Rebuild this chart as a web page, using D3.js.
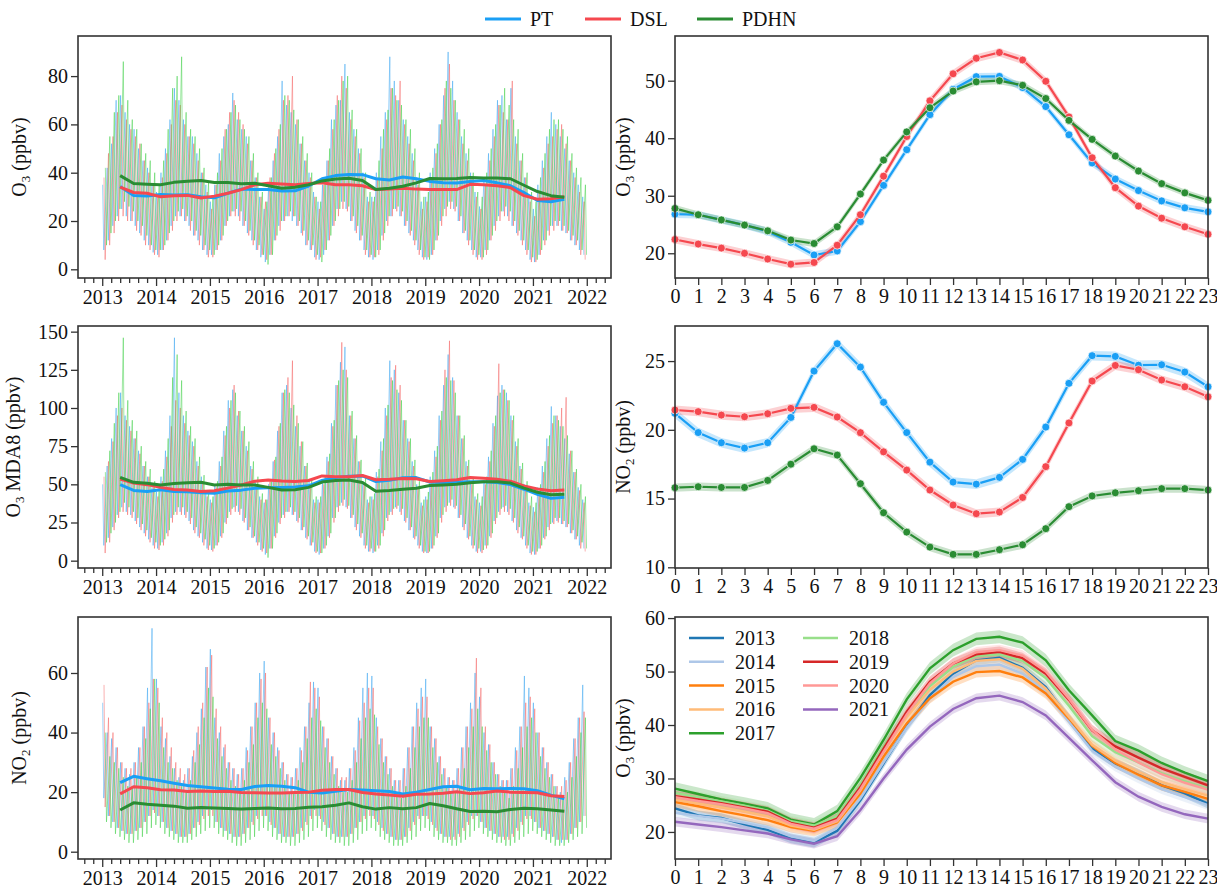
<!DOCTYPE html>
<html>
<head>
<meta charset="utf-8">
<script src="https://cdn.jsdelivr.net/npm/d3@7"></script>
<style>
body { margin: 0; background: #fff; }
</style>
</head>
<body>
<div id="container"></div>
<script>
// ---------------- data ----------------
var stations = ["PT", "DSL", "PDHN"];
var colors = ["#1a9ff5", "#f5484f", "#2a8c33"];
var thinColors = ["#3aa6f2", "#f56464", "#3dcf46"];

var years = d3.range(2013, 2023);
var hours = d3.range(24);

// monthly high / low of the daily series (Jan 2013 .. Dec 2021)
var o3HiPT = [
  35,42,52,70,72,65,60,58,50,45,42,35, 32,40,50,62,75,70,62,55,55,48,40,35,
  28,35,48,55,60,73,62,58,55,45,38,30, 25,35,45,55,78,68,65,60,52,45,40,32,
  28,35,45,62,68,70,85,65,58,50,40,30, 30,40,55,65,88,78,70,62,55,48,38,28,
  30,40,50,60,72,90,78,65,55,48,40,32, 26,38,48,58,70,72,62,75,55,45,38,30,
  25,35,45,55,65,60,55,50,45,40,35,30];
var o3LoPT = [
  8,12,18,22,25,22,20,18,15,12,10,7, 6,8,12,18,22,22,20,18,14,12,8,6,
  6,8,12,18,22,24,22,18,15,12,8,5, 3,6,12,18,20,22,20,18,15,10,8,5,
  4,6,12,18,25,28,25,20,16,12,8,5, 4,8,14,20,22,25,22,18,15,12,8,5,
  4,6,12,20,25,28,25,20,15,12,8,5, 5,8,12,18,22,24,22,18,15,12,8,4,
  3,6,12,16,18,18,16,15,12,10,8,6];
var o3HiDSL = [
  38,48,55,65,68,62,58,55,52,45,40,35, 30,38,48,60,70,68,60,55,52,45,40,32,
  25,35,45,58,65,70,65,60,52,45,38,30, 28,38,48,58,70,72,80,62,52,45,38,30,
  25,35,45,58,72,80,75,62,55,48,38,28, 28,38,50,62,75,72,78,60,52,45,35,25,
  28,38,48,60,75,85,70,62,52,45,38,30, 25,35,45,55,68,65,62,78,52,45,38,28,
  22,32,42,52,55,58,60,52,45,38,32,28];
var o3LoDSL = [
  4,10,15,20,22,20,20,16,14,10,8,6, 5,8,12,16,20,22,20,16,14,10,8,5,
  5,8,12,18,22,22,20,18,14,10,8,6, 4,6,12,16,20,22,22,18,14,10,8,4,
  5,8,12,18,22,25,24,20,15,12,6,5, 5,6,12,18,22,24,22,18,14,10,6,4,
  5,6,12,18,22,25,24,20,15,10,6,4, 4,6,12,16,20,22,20,18,14,10,6,3,
  3,6,10,14,16,18,16,15,12,10,6,4];
var o3HiPDHN = [
  42,55,65,72,86,70,62,58,52,48,45,40, 35,45,58,75,80,88,65,58,55,50,42,36,
  30,40,50,58,65,68,62,58,55,48,40,32, 28,38,50,60,72,70,66,62,55,48,40,30,
  28,38,50,62,70,78,80,66,58,50,40,32, 30,45,58,66,75,70,68,62,58,50,40,30,
  32,42,52,62,78,75,70,62,58,50,40,32, 30,40,50,60,68,75,68,62,58,48,40,32,
  28,38,48,58,62,62,58,55,48,42,38,35];
var o3LoPDHN = [
  10,15,20,25,28,26,24,20,18,14,10,8, 8,10,15,20,24,25,22,20,16,14,10,8,
  6,10,14,20,24,25,24,20,16,12,10,6, 2,6,14,20,22,24,22,20,16,12,10,6,
  3,8,14,20,25,28,26,22,18,14,8,6, 5,8,15,22,25,26,24,20,16,12,8,5,
  4,8,14,22,26,28,26,22,16,12,8,6, 5,8,14,20,24,26,24,20,16,12,8,5,
  4,8,12,18,20,20,18,16,14,12,8,6];

var mdaHiPT = [
  50,62,80,100,110,95,88,80,72,62,55,48, 45,55,72,95,146,110,95,85,78,65,55,45,
  40,50,65,85,105,112,95,85,75,62,52,42, 38,50,65,85,110,115,100,88,75,62,52,40,
  40,52,68,90,115,130,140,95,80,65,52,40, 42,58,78,100,131,125,110,92,80,65,50,38,
  42,55,72,95,115,135,120,95,80,65,52,42, 38,52,68,90,108,115,110,95,78,62,50,38,
  35,48,62,80,101,95,88,80,70,58,48,40];
var mdaLoPT = [
  10,15,22,30,35,32,30,26,22,18,14,10, 8,12,18,28,32,32,30,26,20,16,12,8,
  7,10,16,25,32,35,32,26,20,15,12,7, 4,8,16,25,30,32,30,26,20,15,10,6,
  4,8,16,28,35,38,35,28,22,16,10,6, 5,10,18,28,32,35,32,26,20,15,10,6,
  5,8,16,28,35,38,35,28,22,15,10,6, 6,10,16,26,32,35,32,26,20,15,10,5,
  4,8,15,22,25,26,24,22,18,14,10,8];
var mdaHiDSL = [
  55,65,78,95,100,92,85,80,70,62,55,48, 42,52,68,88,105,100,90,82,75,62,52,42,
  38,48,62,82,100,115,98,85,72,60,50,40, 40,52,66,88,110,120,131,95,78,62,50,38,
  38,50,65,88,115,143,125,95,80,65,50,38, 40,55,72,95,120,128,115,92,78,62,48,36,
  40,52,68,92,125,144,118,95,80,62,50,40, 36,50,65,88,129,112,105,92,75,60,48,36,
  32,45,58,75,90,95,100,107,72,58,46,38];
var mdaLoDSL = [
  5,12,20,28,32,30,28,24,20,16,12,8, 7,10,16,25,30,30,28,24,18,15,10,7,
  6,10,15,24,30,32,30,25,20,15,10,6, 5,8,15,24,28,32,30,25,20,14,10,5,
  5,8,15,25,32,36,34,28,20,15,8,6, 6,8,16,26,30,34,30,25,20,14,8,5,
  5,8,15,25,32,36,34,28,20,14,8,5, 5,8,15,24,30,32,30,25,18,14,8,4,
  4,8,14,20,24,25,24,22,18,14,8,6];
var mdaHiPDHN = [
  58,72,90,110,146,105,92,85,75,65,60,52, 48,60,80,120,135,118,98,88,80,68,56,46,
  42,52,68,88,105,110,98,88,78,65,55,44, 40,52,68,90,112,110,102,90,78,64,54,42,
  42,55,70,92,118,125,120,98,82,66,54,42, 44,60,80,102,118,112,105,92,80,66,52,40,
  45,58,75,98,120,118,110,95,82,66,54,44, 42,55,72,95,110,112,105,95,80,64,52,42,
  38,50,65,82,95,92,88,82,72,60,50,42];
var mdaLoPDHN = [
  12,18,25,32,38,35,32,28,24,20,15,12, 10,14,20,30,35,35,32,28,22,18,14,10,
  8,12,18,28,34,36,34,28,22,16,12,8, 2,8,18,28,32,35,32,28,22,16,12,6,
  5,10,18,28,36,40,36,30,24,18,10,8, 6,10,20,30,34,36,34,28,22,16,10,6,
  6,10,18,30,36,40,36,30,24,16,10,8, 7,10,18,28,34,36,34,28,22,16,10,6,
  6,10,16,24,28,28,26,24,20,16,12,8];

var no2HiPT = [
  50,40,38,35,30,28,26,30,35,42,55,75, 58,42,38,32,28,25,24,28,32,40,48,62,
  68,45,40,35,30,28,26,28,35,42,50,60, 64,45,40,35,30,26,25,28,35,42,50,57,
  55,42,38,32,28,24,24,28,35,45,55,60, 59,45,38,32,28,24,24,28,35,42,50,55,
  58,42,38,32,28,25,24,28,35,42,50,60, 52,40,36,30,26,24,24,28,35,42,59,55,
  50,40,35,30,26,22,20,25,30,38,45,56];
var no2LoPT = [
  18,12,10,8,7,6,6,7,8,10,12,14, 12,10,8,7,6,5,5,6,8,10,12,14,
  14,10,8,7,6,5,5,6,8,10,12,14, 12,10,8,6,5,5,5,6,8,10,12,14,
  12,10,8,6,5,5,5,6,8,10,12,14, 12,10,8,6,5,4,4,5,8,10,12,12,
  12,10,8,6,5,5,5,6,8,10,12,12, 10,8,7,6,5,5,5,6,8,10,12,12,
  10,8,7,6,5,4,3,4,6,8,10,12];
var no2HiDSL = [
  56,45,40,35,30,28,28,30,35,42,50,58, 55,45,40,35,30,28,26,28,34,42,50,62,
  66,48,42,36,30,28,26,28,34,42,50,58, 60,45,40,34,30,26,25,28,34,42,57,55,
  52,42,38,32,28,25,25,28,34,44,50,55, 55,42,38,32,28,24,24,28,35,42,48,52,
  52,42,38,32,28,25,24,28,35,42,48,65, 55,42,36,30,26,24,24,28,34,42,50,52,
  48,40,35,30,26,22,22,24,30,38,45,47];
var no2LoDSL = [
  15,12,10,8,7,6,6,7,8,10,12,13, 12,10,8,7,6,5,5,6,8,9,11,12,
  12,10,8,7,6,5,5,6,8,9,11,12, 12,9,8,6,5,5,5,6,7,9,11,12,
  11,9,8,6,5,5,5,6,8,10,11,12, 11,9,7,6,5,4,4,5,7,9,11,12,
  11,9,7,6,5,4,4,5,7,9,11,12, 10,8,7,6,5,4,4,5,7,9,11,11,
  10,8,7,6,5,4,4,4,6,8,10,12];
var no2HiPDHN = [
  40,32,30,28,25,22,22,25,30,38,48,58, 50,35,30,28,24,22,20,24,30,36,45,55,
  52,38,32,28,24,22,20,24,30,36,45,50, 48,36,32,28,24,20,20,24,30,38,45,48,
  44,35,30,26,22,20,20,24,30,38,45,48, 46,36,30,26,22,20,18,22,28,35,42,45,
  45,35,30,26,22,20,20,22,28,35,42,48, 42,34,30,26,22,20,18,22,28,35,42,45,
  40,32,28,25,22,18,18,20,25,32,40,45];
var no2LoPDHN = [
  10,8,6,5,4,3,3,4,5,6,8,9, 8,6,5,4,3,3,3,4,5,6,7,8,
  8,6,5,4,3,2,2,3,4,5,7,8, 7,5,4,3,3,2,2,3,4,5,7,8,
  7,5,4,3,3,2,2,3,4,6,7,8, 7,5,4,3,2,2,2,3,4,5,7,8,
  7,5,4,3,3,2,2,3,4,5,7,8, 6,5,4,3,3,2,2,3,4,5,6,7,
  6,5,4,3,2,2,2,3,4,5,6,8];

// rolling means, one value per quarter from May 2013
var rollDates = d3.range(34).map(function (k) { return 2013 + 4 / 12 + k * 0.25; });

var o3RollPT = [34.3,30.6,30.4,31.0,30.8,30.9,30.0,29.6,31.5,33.2,33.0,33.0,32.4,32.5,34.5,37.5,38.8,
  39.3,39.2,37.5,37.0,38.2,37.5,36.4,35.8,35.7,36.4,36.8,35.8,34.6,31.8,28.5,28.0,29.0];
var o3RollDSL = [34.0,31.8,31.5,30.0,30.5,30.6,29.5,30.3,31.5,33.0,35.0,35.6,35.3,35.0,35.5,35.8,35.0,
  35.0,34.6,33.0,33.2,33.6,33.2,33.0,33.0,33.0,35.2,35.0,34.6,33.8,30.5,29.0,29.2,30.0];
var o3RollPDHN = [38.8,35.5,35.2,35.0,36.0,36.5,36.8,35.9,35.9,35.4,35.6,34.6,33.6,34.0,35.0,36.6,37.4,
  37.7,36.8,33.0,33.6,34.4,35.8,37.6,37.5,37.6,38.0,37.8,37.8,37.5,34.8,32.2,30.5,29.8];

var mdaRollPT = [49.8,46.0,45.3,46.5,45.3,45.2,44.5,44.2,45.6,46.2,47.5,47.8,48.0,48.3,49.0,52.5,54.5,
  55.3,55.5,51.8,52.6,54.3,54.4,51.5,51.2,51.3,51.7,51.7,51.2,49.8,46.8,43.5,40.8,41.5];
var mdaRollDSL = [53.5,50.8,49.8,48.0,46.6,46.3,45.3,45.8,47.5,49.6,52.0,52.8,52.2,51.9,52.5,55.5,55.0,
  55.0,55.8,53.0,53.3,53.8,53.6,51.8,52.4,53.0,54.5,54.0,53.3,52.0,48.9,46.9,45.8,46.3];
var mdaRollPDHN = [54.5,51.3,50.7,49.5,50.5,51.0,51.3,49.6,50.0,49.6,49.6,48.0,46.3,46.5,48.0,51.5,52.5,
  52.8,51.2,45.5,46.0,46.8,47.4,49.2,49.6,50.0,51.0,51.7,51.7,50.8,47.5,44.8,43.2,43.5];

var no2RollPT = [23.2,25.3,24.5,23.8,23.0,22.2,21.8,21.4,21.0,20.9,21.9,22.2,22.0,21.5,20.0,19.7,20.3,
  20.9,20.7,20.5,20.2,19.4,20.0,20.9,21.8,22.0,20.8,21.2,21.1,21.2,21.1,20.5,19.0,17.8];
var no2RollDSL = [19.4,21.8,21.5,20.8,20.7,20.2,20.4,20.2,20.3,19.9,19.8,19.7,19.7,19.9,20.0,20.6,20.9,
  20.9,19.9,19.4,19.0,18.6,19.3,19.4,19.6,20.1,19.5,19.8,20.4,20.0,19.9,19.8,18.8,18.5];
var no2RollPDHN = [14.0,16.4,15.9,15.6,15.3,14.6,14.8,14.7,14.5,14.3,14.5,14.7,14.4,14.5,14.9,15.1,15.6,
  16.4,15.1,14.3,14.8,14.4,14.8,16.2,15.4,14.4,13.5,13.6,13.4,14.2,14.6,14.4,14.0,13.6];

// diurnal cycles
var o3HourPT = [26.8,26.7,25.8,24.9,23.8,21.9,19.7,20.4,25.5,31.8,38.0,44.1,48.5,50.7,50.75,48.8,45.5,40.6,35.7,32.9,30.9,29.1,27.9,27.2];
var o3HourDSL = [22.4,21.6,20.9,20.0,19.0,18.1,18.4,21.4,26.7,33.4,40.3,46.5,51.2,53.9,54.9,53.6,49.9,43.7,36.6,31.4,28.2,26.1,24.6,23.3];
var o3HourPDHN = [27.8,26.7,25.8,24.9,23.9,22.3,21.7,24.6,30.3,36.2,41.1,45.3,48.2,49.8,50.0,49.2,46.9,43.1,39.8,36.9,34.3,32.1,30.5,29.2];
var o3HourCI = [0.65, 0.7, 0.6];

var no2HourPT = [21.2,19.8,19.06,18.67,19.06,20.9,24.27,26.26,24.56,22.0,19.8,17.65,16.2,16.05,16.54,17.85,20.2,23.38,25.39,25.34,24.7,24.73,24.2,23.13];
var no2HourDSL = [21.44,21.32,21.07,20.95,21.17,21.56,21.63,20.93,19.79,18.4,17.07,15.62,14.53,13.9,14.02,15.08,17.32,20.5,23.55,24.68,24.37,23.62,23.13,22.4];
var no2HourPDHN = [15.79,15.86,15.81,15.81,16.32,17.5,18.62,18.16,16.08,13.97,12.56,11.47,10.94,10.94,11.28,11.64,12.81,14.41,15.19,15.42,15.57,15.72,15.72,15.62];
var no2HourCI = [0.35, 0.33, 0.3];

var yearLabels = ["2013","2014","2015","2016","2017","2018","2019","2020","2021"];
var yearColors = ["#1f77b4","#aec7e8","#ff7f0e","#ffbb78","#2ca02c","#98df8a","#d62728","#ff9896","#9467bd"];
var o3Y2013 = [24.4,23.1,22.6,21.4,20.4,18.8,18.0,20.2,25.9,32.8,39.7,45.6,49.6,52.1,52.6,50.7,47.1,41.2,35.6,32.8,30.9,28.7,27.2,25.3];
var o3Y2014 = [23.6,23.0,22.5,21.7,20.8,19.2,18.3,20.8,26.3,33.0,39.5,45.0,49.0,51.0,51.3,49.6,46.1,40.6,35.2,32.2,30.0,28.0,26.5,25.0];
var o3Y2015 = [25.6,24.8,23.9,23.1,22.2,20.9,20.2,21.8,27.2,34.1,40.3,45.0,48.1,49.9,50.1,48.9,45.9,41.2,36.1,32.9,30.7,28.7,27.5,26.2];
var o3Y2016 = [26.0,25.3,24.6,23.8,22.9,21.2,20.4,22.0,27.8,35.0,41.5,46.6,50.0,52.0,52.3,50.5,46.8,41.5,36.3,33.3,31.2,29.3,28.0,26.8];
var o3Y2017 = [28.1,27.1,26.1,25.3,24.4,22.3,21.4,23.9,30.1,37.2,44.8,50.6,54.0,56.1,56.5,55.4,52.1,46.5,41.8,37.0,35.2,32.9,31.1,29.5];
var o3Y2018 = [27.3,26.5,25.7,24.9,24.0,22.0,21.2,23.0,28.9,36.0,42.2,47.3,50.9,52.9,53.2,52.0,48.8,43.6,37.9,34.9,33.0,31.0,29.5,28.1];
var o3Y2019 = [26.7,26.1,25.4,24.6,23.8,21.7,20.8,22.5,28.4,35.6,42.5,48.1,51.5,53.2,53.7,52.5,49.6,44.7,39.0,36.0,33.9,31.9,30.3,28.7];
var o3Y2020 = [26.5,25.8,25.2,24.4,23.5,21.5,20.6,22.2,28.0,35.0,42.0,47.8,51.5,53.6,54.0,53.0,50.0,44.9,39.1,35.4,33.0,30.8,29.2,27.9];
var o3Y2021 = [21.9,21.4,20.9,20.3,19.7,18.6,17.8,19.2,24.1,30.0,35.4,39.7,43.0,45.0,45.5,44.3,41.8,37.6,33.4,29.3,26.6,24.7,23.3,22.5];
var o3YearCI = [0.9,0.9,1.0,1.0,1.2,1.0,1.0,1.0,0.9];

// ---------------- drawing ----------------
var FONT = "'Liberation Serif', 'Times New Roman', serif";

var svg = d3.select("#container")
    .append("svg")
    .attr("width", 1217)
    .attr("height", 889)
    .style("font-family", FONT);

var leftX = [78, 611], rightX = [675, 1208];
var rowsY = [[36, 278], [326, 568], [617, 859]];

var xT = d3.scaleLinear().domain([2012.55, 2022.45]).range(leftX);
var xH = d3.scaleLinear().domain([0, 23]).range(rightX);

function styleAxis(g)
{
    g.attr("font-size", 20).style("font-family", FONT);
    g.select(".domain").remove();
    g.selectAll(".tick line").attr("stroke", "#333").attr("stroke-width", 1.3);
    g.selectAll(".tick text").attr("fill", "#111").style("font-family", FONT);
}

function drawFrame(xr, yr)
{
    svg.append("rect")
        .attr("x", xr[0]).attr("y", yr[0])
        .attr("width", xr[1] - xr[0]).attr("height", yr[1] - yr[0])
        .attr("fill", "none").attr("stroke", "#333").attr("stroke-width", 1.6);
}

function yLabel(x, y, pre, sub, post)
{
    var t = svg.append("text")
        .attr("transform", "translate(" + x + "," + y + ") rotate(-90)")
        .attr("text-anchor", "middle")
        .attr("font-size", 20)
        .attr("fill", "#111")
        .style("font-family", FONT);
    t.append("tspan").text(pre);
    t.append("tspan").text(sub).attr("font-size", 13).attr("dy", "0.3em");
    t.append("tspan").text(post).attr("dy", "-0.2em");
}

function yAxis(xr, y, ticks)
{
    svg.append("g")
        .attr("transform", "translate(" + xr[0] + ",0)")
        .call(d3.axisLeft(y).tickValues(ticks).tickSize(7).tickPadding(3))
        .call(styleAxis);
}

function timeAxis(yr)
{
    var minor = d3.range(2012 * 6, 2023 * 6).map(function (k) { return k / 6; })
        .filter(function (v) { return v >= 2012.55 && v <= 2022.45 && Math.abs(v - Math.round(v)) > 1e-6; });
    svg.append("g")
        .attr("transform", "translate(0," + yr[1] + ")")
        .call(d3.axisBottom(xT).tickValues(minor).tickFormat("").tickSize(5))
        .call(styleAxis);
    svg.append("g")
        .attr("transform", "translate(0," + yr[1] + ")")
        .call(d3.axisBottom(xT).tickValues(years).tickFormat(d3.format("d")).tickSize(8).tickPadding(4))
        .call(styleAxis);
}

function hourAxis(yr)
{
    svg.append("g")
        .attr("transform", "translate(0," + yr[1] + ")")
        .call(d3.axisBottom(xH).tickValues(hours).tickSize(7).tickPadding(4))
        .call(styleAxis);
}

// left column: daily series with rolling mean
function timePanel(row, domain, ticks, his, los, rolls, label)
{
    var yr = rowsY[row];
    var y = d3.scaleLinear().domain(domain).range([yr[1], yr[0]]);
    var line = d3.line().x(function (d) { return xT(d[0]); }).y(function (d) { return y(d[1]); });

    his.forEach(function (hi, s)
    {
        var lo = los[s];
        var pts = [];
        hi.forEach(function (h, m)
        {
            pts.push([2013 + (m + 0.1 + s * 0.3) / 12, h]);
            pts.push([2013 + (m + 0.35 + s * 0.3) / 12, lo[m]]);
        });
        svg.append("path")
            .datum(pts)
            .attr("d", line)
            .attr("fill", "none")
            .attr("stroke", thinColors[s])
            .attr("stroke-opacity", 0.5)
            .attr("stroke-width", 1);
    });

    rolls.forEach(function (r, s)
    {
        svg.append("path")
            .datum(r.map(function (v, k) { return [rollDates[k], v]; }))
            .attr("d", line)
            .attr("fill", "none")
            .attr("stroke", colors[s])
            .attr("stroke-width", 3)
            .attr("stroke-linejoin", "round");
    });

    drawFrame(leftX, yr);
    yAxis(leftX, y, ticks);
    timeAxis(yr);
    yLabel(label[3], (yr[0] + yr[1]) / 2, label[0], label[1], label[2]);
}

// right column: diurnal cycle with confidence band
function hourPanel(row, domain, ticks, series, cis, cols, markers, label)
{
    var yr = rowsY[row];
    var y = d3.scaleLinear().domain(domain).range([yr[1], yr[0]]);

    series.forEach(function (vals, s)
    {
        var ci = cis[s];
        svg.append("path")
            .datum(vals)
            .attr("d", d3.area()
                .x(function (d, i) { return xH(i); })
                .y0(function (d) { return y(d - ci); })
                .y1(function (d) { return y(d + ci); }))
            .attr("fill", cols[s])
            .attr("fill-opacity", 0.25);
    });
    series.forEach(function (vals, s)
    {
        svg.append("path")
            .datum(vals)
            .attr("d", d3.line().x(function (d, i) { return xH(i); }).y(function (d) { return y(d); }))
            .attr("fill", "none")
            .attr("stroke", cols[s])
            .attr("stroke-width", markers ? 2.2 : 2.4);
        if (markers)
        {
            svg.selectAll(null)
                .data(vals)
                .enter()
                .append("circle")
                .attr("cx", function (d, i) { return xH(i); })
                .attr("cy", function (d) { return y(d); })
                .attr("r", 4)
                .attr("fill", cols[s])
                .attr("stroke", "#fff")
                .attr("stroke-width", 0.7);
        }
    });

    drawFrame(rightX, yr);
    yAxis(rightX, y, ticks);
    hourAxis(yr);
    yLabel(630, (yr[0] + yr[1]) / 2, label[0], label[1], label[2]);
}

timePanel(0, [-3.6, 96.6], [0, 20, 40, 60, 80],
    [o3HiPT, o3HiDSL, o3HiPDHN], [o3LoPT, o3LoDSL, o3LoPDHN],
    [o3RollPT, o3RollDSL, o3RollPDHN], ["O", "3", " (ppbv)", 26]);
timePanel(1, [-4.8, 153.7], [0, 25, 50, 75, 100, 125, 150],
    [mdaHiPT, mdaHiDSL, mdaHiPDHN], [mdaLoPT, mdaLoDSL, mdaLoPDHN],
    [mdaRollPT, mdaRollDSL, mdaRollPDHN], ["O", "3", " MDA8 (ppbv)", 20]);
timePanel(2, [-2.45, 78.8], [0, 20, 40, 60],
    [no2HiPT, no2HiDSL, no2HiPDHN], [no2LoPT, no2LoDSL, no2LoPDHN],
    [no2RollPT, no2RollDSL, no2RollPDHN], ["NO", "2", " (ppbv)", 26]);

hourPanel(0, [15.7, 57.77], [20, 30, 40, 50],
    [o3HourPT, o3HourDSL, o3HourPDHN], o3HourCI, colors, true, ["O", "3", " (ppbv)"]);
hourPanel(1, [9.95, 27.55], [10, 15, 20, 25],
    [no2HourPT, no2HourDSL, no2HourPDHN], no2HourCI, colors, true, ["NO", "2", " (ppbv)"]);
hourPanel(2, [14.94, 60.2], [20, 30, 40, 50, 60],
    [o3Y2013, o3Y2014, o3Y2015, o3Y2016, o3Y2017, o3Y2018, o3Y2019, o3Y2020, o3Y2021],
    o3YearCI, yearColors, false, ["O", "3", " (ppbv)"]);

// top legend
var legX = [485, 585, 697];
stations.forEach(function (name, s)
{
    svg.append("line")
        .attr("x1", legX[s]).attr("x2", legX[s] + 36)
        .attr("y1", 19).attr("y2", 19)
        .attr("stroke", colors[s]).attr("stroke-width", 3);
    svg.append("text")
        .attr("x", legX[s] + 45).attr("y", 26)
        .attr("font-size", 20).attr("fill", "#111")
        .style("font-family", FONT)
        .text(name);
});

// year legend in the bottom-right panel
yearLabels.forEach(function (name, i)
{
    var col = i < 5 ? 0 : 1;
    var row = i < 5 ? i : i - 5;
    var lx = col === 0 ? 689 : 803;
    var ly = 638 + row * 23.8;
    svg.append("line")
        .attr("x1", lx).attr("x2", lx + 35)
        .attr("y1", ly).attr("y2", ly)
        .attr("stroke", yearColors[i]).attr("stroke-width", 2.5);
    svg.append("text")
        .attr("x", lx + 46).attr("y", ly + 7)
        .attr("font-size", 20).attr("fill", "#111")
        .style("font-family", FONT)
        .text(name);
});
</script>
</body>
</html>
